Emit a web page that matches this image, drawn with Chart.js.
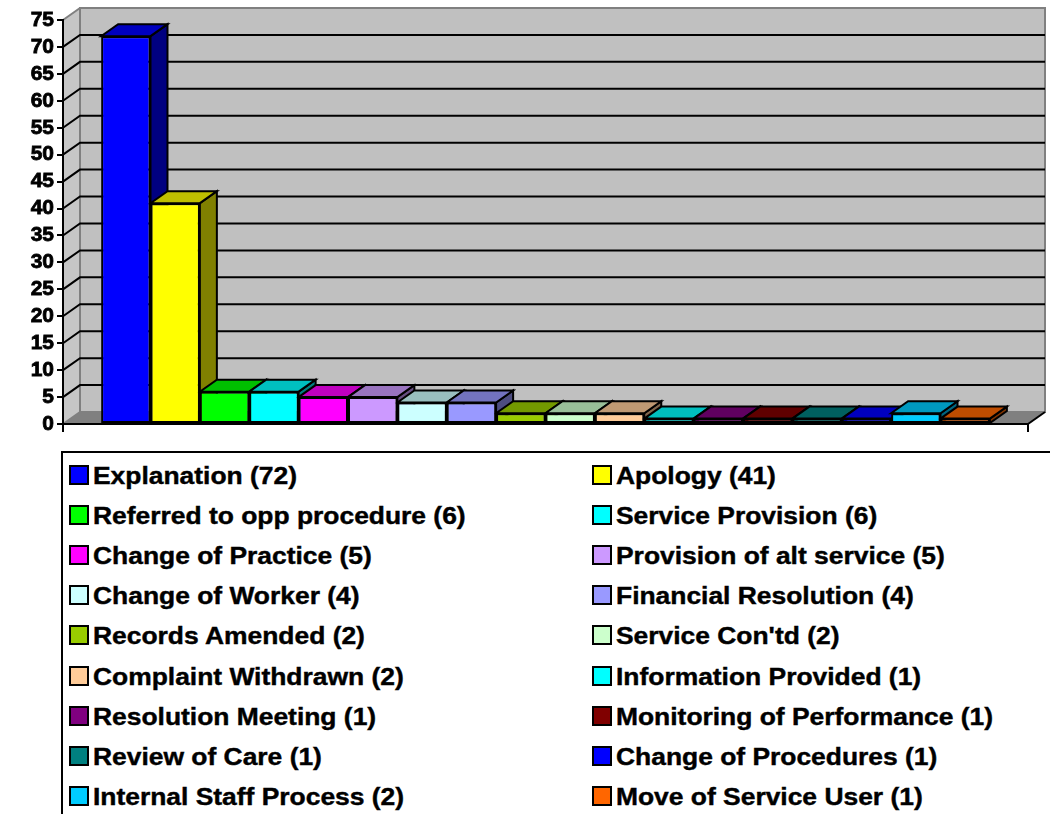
<!DOCTYPE html>
<html>
<head>
<meta charset="utf-8">
<script src="https://cdn.jsdelivr.net/npm/chart.js@4.4.1/dist/chart.umd.min.js"></script>
<style>
  html, body { margin: 0; padding: 0; background: #fff; width: 1050px; height: 814px; overflow: hidden; }
  #wrap { position: absolute; left: 0; top: 0; width: 1050px; height: 450px; }
  #legend { position: absolute; left: 61px; top: 451px; width: 1100px; height: 400px;
            border-top: 2px solid #000; border-left: 2px solid #000; box-sizing: border-box; }
  .sw { position: absolute; width: 20px; height: 20px; border: 2px solid #000; box-sizing: border-box; }
  .lt { position: absolute; font-family: "Liberation Sans", Arial, sans-serif; font-weight: bold;
        font-size: 23px; line-height: 23px; color: #000; white-space: nowrap;
        -webkit-text-stroke: 0.4px #000;
        transform: scaleX(1.148); transform-origin: 0 0; }
</style>
</head>
<body>
<div id="wrap"><canvas id="c" width="1050" height="450"></canvas></div>
<div id="legend"></div>
<script>
// ---- data ----
const seriesNames = [
  "Explanation", "Apology", "Referred to opp procedure", "Service Provision",
  "Change of Practice", "Provision of alt service", "Change of Worker", "Financial Resolution",
  "Records Amended", "Service Con'td", "Complaint Withdrawn", "Information Provided",
  "Resolution Meeting", "Monitoring of Performance", "Review of Care", "Change of Procedures",
  "Internal Staff Process", "Move of Service User"
];
const seriesValues = [72, 41, 6, 6, 5, 5, 4, 4, 2, 2, 2, 1, 1, 1, 1, 1, 2, 1];
const seriesColors = [
  "#0000FF", "#FFFF00", "#00FF00", "#00FFFF",
  "#FF00FF", "#CC99FF", "#CCFFFF", "#9999FF",
  "#99CC00", "#CCFFCC", "#FFCC99", "#00FFFF",
  "#800080", "#800000", "#008080", "#0000FF",
  "#00CCFF", "#FF6600"
];
const categories = [""];
const yMin = 0, yMax = 75, yStep = 5;

// ---- helpers ----
function shade(hex, f) {
  const n = parseInt(hex.slice(1), 16);
  const r = Math.round(((n >> 16) & 255) * f);
  const g = Math.round(((n >> 8) & 255) * f);
  const b = Math.round((n & 255) * f);
  return `rgb(${r},${g},${b})`;
}
const DX = 17, DY = -12;

function poly(ctx, pts) {
  ctx.beginPath();
  ctx.moveTo(pts[0][0], pts[0][1]);
  for (let i = 1; i < pts.length; i++) ctx.lineTo(pts[i][0], pts[i][1]);
  ctx.closePath();
}

const fake3d = {
  id: 'fake3d',
  beforeDraw(chart) {
    const ctx = chart.ctx, a = chart.chartArea, ys = chart.scales.y;
    ctx.save();
    // back wall
    ctx.fillStyle = '#C0C0C0';
    ctx.fillRect(a.left + DX, a.top + DY, a.right - a.left, a.bottom - a.top);
    // side wall
    ctx.fillStyle = '#C6C6C6';
    poly(ctx, [[a.left, a.top], [a.left + DX, a.top + DY], [a.left + DX, a.bottom + DY], [a.left, a.bottom]]);
    ctx.fill();
    // floor
    ctx.fillStyle = '#808080';
    poly(ctx, [[a.left, a.bottom], [a.right, a.bottom], [a.right + DX, a.bottom + DY], [a.left + DX, a.bottom + DY]]);
    ctx.fill();
    // wall borders (gray)
    ctx.strokeStyle = '#808080';
    ctx.lineWidth = 2;
    ctx.strokeRect(a.left + DX, a.top + DY, a.right - a.left, a.bottom - a.top);
    ctx.beginPath();
    ctx.moveTo(a.left, a.top); ctx.lineTo(a.left + DX, a.top + DY);
    ctx.moveTo(a.left, a.bottom); ctx.lineTo(a.left + DX, a.bottom + DY);
    ctx.stroke();
    // gridlines on side and back walls
    ctx.strokeStyle = '#000';
    ctx.lineWidth = 2;
    ctx.beginPath();
    for (let v = yMin + yStep; v < yMax; v += yStep) {
      const py = ys.getPixelForValue(v);
      ctx.moveTo(a.left, py);
      ctx.lineTo(a.left + DX, py + DY);
      ctx.lineTo(a.right + DX, py + DY);
    }
    ctx.stroke();
    // floor right edge
    ctx.beginPath();
    ctx.moveTo(a.right, a.bottom);
    ctx.lineTo(a.right + DX, a.bottom + DY);
    ctx.stroke();
    ctx.restore();
  },
  beforeDatasetsDraw(chart) {
    const ctx = chart.ctx;
    ctx.save();
    ctx.lineWidth = 2;
    ctx.strokeStyle = '#000';
    ctx.lineJoin = 'miter';
    for (let i = 0; i < chart.data.datasets.length; i++) {
      const meta = chart.getDatasetMeta(i);
      const el = meta.data[0];
      if (!el) continue;
      const p = el.getProps(['x', 'y', 'base', 'width'], true);
      const l = p.x - p.width / 2, r = p.x + p.width / 2, t = p.y, b = p.base;
      const col = seriesColors[i];
      // side face
      ctx.fillStyle = shade(col, 0.5);
      poly(ctx, [[r, t], [r + DX, t + DY], [r + DX, b + DY], [r, b]]);
      ctx.fill(); ctx.stroke();
      // top face
      ctx.fillStyle = shade(col, 0.75);
      poly(ctx, [[l, t], [r, t], [r + DX, t + DY], [l + DX, t + DY]]);
      ctx.fill(); ctx.stroke();
    }
    ctx.restore();
  }
};

const datasets = seriesNames.map((name, i) => ({
  label: name,
  data: [seriesValues[i]],
  backgroundColor: seriesColors[i],
  borderColor: '#000',
  borderWidth: 2,
  borderSkipped: false,
  categoryPercentage: 0.921,
  barPercentage: 1.0
}));

new Chart(document.getElementById('c'), {
  type: 'bar',
  data: { labels: categories, datasets },
  options: {
    responsive: false,
    animation: false,
    events: [],
    layout: { padding: { left: 0, top: 20, right: 22, bottom: 0 } },
    plugins: { legend: { display: false }, tooltip: { enabled: false }, title: { display: false } },
    scales: {
      x: {
        ticks: { display: false },
        grid: { drawOnChartArea: false, drawTicks: true, tickLength: 8, color: '#000', lineWidth: 2, offset: true },
        border: { display: true, color: '#000', width: 2 },
        afterFit(s) { s.height = 26; }
      },
      y: {
        min: yMin, max: yMax,
        ticks: { stepSize: yStep, autoSkip: false, color: '#000', padding: 3,
                 textStrokeColor: '#000', textStrokeWidth: 0.8,
                 font: { family: '"Liberation Sans", Arial, sans-serif', size: 21, weight: 'bold' } },
        grid: { drawOnChartArea: false, drawTicks: true, tickLength: 6, color: '#000', lineWidth: 2 },
        border: { display: true, color: '#000', width: 2 },
        afterFit(s) { s.width = 63; }
      }
    }
  },
  plugins: [fake3d]
});

// ---- legend (HTML) ----
const lg = document.getElementById('legend');
const colSw = [69, 592], colTx = [93, 616];
const rowTop0 = 463, rowStep = 40.1;
seriesNames.forEach((name, i) => {
  const c = i % 2, r = Math.floor(i / 2);
  const top = Math.round(rowTop0 + r * rowStep) - 451;
  const sw = document.createElement('div');
  sw.className = 'sw';
  sw.style.left = (colSw[c] - 63) + 'px';
  sw.style.top = top + 'px';
  sw.style.background = seriesColors[i];
  lg.appendChild(sw);
  const tx = document.createElement('div');
  tx.className = 'lt';
  tx.style.left = (colTx[c] - 63) + 'px';
  tx.style.top = top + 'px';
  tx.textContent = `${name} (${seriesValues[i]})`;
  lg.appendChild(tx);
});
</script>
</body>
</html>
